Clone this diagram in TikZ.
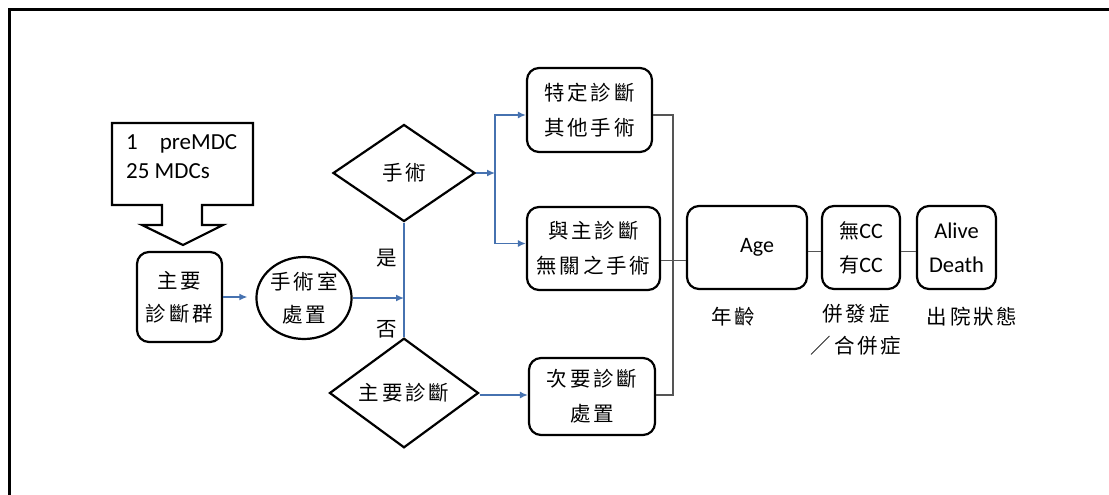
\documentclass[tikz,border=0pt]{standalone}
\usepackage{fontspec}
\setmainfont{Carlito}
\newfontfamily\cjk{Noto Sans CJK TC}[LetterSpace=14]
\usetikzlibrary{shapes.geometric,arrows.meta}
\definecolor{flowblue}{RGB}{70,114,176}
\definecolor{linkgray}{RGB}{85,85,85}
\tikzset{
  box/.style={draw, line width=2.2pt, rounded corners=12pt, inner sep=0pt, align=center,
    font=\cjk\fontsize{20.5}{35}\selectfont},
  dia/.style={draw, line width=2.2pt, shape=diamond, inner sep=0pt, align=center,
    font=\cjk\fontsize{20.5}{35}\selectfont},
  lab/.style={inner sep=0pt, align=center, font=\cjk\fontsize{20.5}{32}\selectfont},
  flow/.style={draw=flowblue, line width=1.4pt, -{Latex[length=8pt,width=7pt]}},
  bline/.style={draw=flowblue, line width=1.4pt},
  link/.style={draw=linkgray, line width=1.3pt}
}
\begin{document}
\begin{tikzpicture}[x=1pt,y=-1pt]
\useasboundingbox (0,0) rectangle (1109,495);
% outer frame
\draw[line width=3pt] (1115,10) -- (9,10) -- (9,500);
% block arrow
\draw[line width=2.2pt, line join=miter] (112,123) -- (253,123) -- (253,205) -- (202,205) -- (202,225)
  -- (223,225) -- (183,245) -- (142,225) -- (162,225) -- (162,205) -- (112,205) -- cycle;
\node[anchor=west, align=left, inner sep=0pt, font=\fontsize{23}{29}\selectfont] (mdcs) at (126,157)
  {1\hspace{22pt}preMDC\\25 MDCs};
% nodes
\node[box, minimum width=85pt, minimum height=90pt, font=\cjk\fontsize{20.5}{33}\selectfont] (grp) at (179.5,297) {主要\\診斷群};
\node[draw, line width=2.2pt, shape=ellipse, inner sep=0pt, minimum width=95pt, minimum height=82pt,
  align=center, font=\cjk\fontsize{20.5}{33}\selectfont] (room) at (304,298) {手術室\\處置};
\node[dia, minimum width=142pt, minimum height=97pt] (surg) at (404,173) {手術};
\node[dia, minimum width=149pt, minimum height=90pt] (pdx) at (404,393) {主要診斷};
\node[box, minimum width=125pt, minimum height=84pt] (b1) at (589.5,110) {特定診斷\\其他手術};
\node[box, minimum width=133pt, minimum height=83pt] (b2) at (593.5,248.5) {與主診斷\\無關之手術};
\node[box, minimum width=126pt, minimum height=77pt] (b3) at (592,396.5) {次要診斷\\處置};
\node[box, minimum width=120pt, minimum height=83pt, font=\fontsize{22}{33}\selectfont] (age) at (747,247.5) {\hspace*{20pt}Age};
\node[box, minimum width=78pt, minimum height=83pt, font=\fontsize{22}{34}\selectfont] (cc) at (861,247.5)
  {{\cjk\fontsize{20}{34}\selectfont 無}CC\\{\cjk\fontsize{20}{34}\selectfont 有}CC};
\node[box, minimum width=79pt, minimum height=83pt, font=\fontsize{22.5}{34}\selectfont] (dis) at (956.5,247.5) {Alive\\Death};
% labels
\node[lab] (yes) at (387,258) {是};
\node[lab] (no) at (387,329) {否};
\node[lab] (agel) at (733,317) {年齡};
\node[lab, anchor=north] (ccl) at (856,304) {併發症\\／合併症};
\node[lab] (disl) at (972,317) {出院狀態};
% blue connectors
\coordinate (k) at (495,173);
\draw[flow, shorten >=8pt] (grp.east) -- (grp.east -| room.west);
\draw[bline] (surg.south) -- (pdx.north);
\draw[flow] (room.east) -- (room.east -| surg.south);
\draw[flow] (surg.east) -- (k);
\draw[flow] (k) |- ([yshift=-5pt]b1.west);
\draw[flow] (k) |- ([yshift=5pt]b2.west);
\draw[flow] ([yshift=-2pt]pdx.east) -- ([yshift=-2pt]pdx.east -| b3.west);
% gray connectors
\coordinate (gx) at (673,0);
\draw[link] ([yshift=-5pt]b1.east) -- ([yshift=-5pt]b1.east -| gx) -- ([yshift=1.5pt]b3.east -| gx) -- ([yshift=1.5pt]b3.east);
\draw[link] ([yshift=-12pt]b2.east) -- ([yshift=-12pt]b2.east -| age.west);
\draw[link] ([yshift=-4pt]age.east) -- ([yshift=-4pt]age.east -| cc.west);
\draw[link] ([yshift=-4pt]cc.east) -- ([yshift=-4pt]cc.east -| dis.west);
\end{tikzpicture}
\end{document}
